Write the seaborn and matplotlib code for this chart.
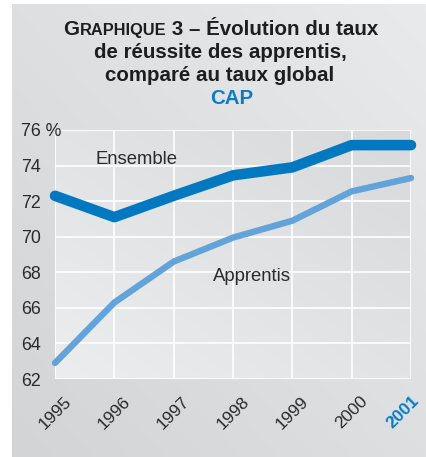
import matplotlib
matplotlib.use("Agg")
import matplotlib.pyplot as plt
import seaborn as sns
import pandas as pd
import numpy as np
from matplotlib.colors import LinearSegmentedColormap
from matplotlib.transforms import ScaledTranslation

years = [1995, 1996, 1997, 1998, 1999, 2000, 2001]
ensemble = [72.3, 71.1, 72.3, 73.45, 73.9, 75.15, 75.15]
apprentis = [62.9, 66.3, 68.6, 69.95, 70.9, 72.55, 73.3]
ytick_values = [62, 64, 66, 68, 70, 72, 74, 76]
ytick_labels = ["62", "64", "66", "68", "70", "72", "74", "76 %"]
xtick_labels = ["1995", "1996", "1997", "1998", "1999", "2000", "2001"]

df = pd.DataFrame({
    "annee": years * 2,
    "taux": ensemble + apprentis,
    "serie": ["Ensemble"] * len(years) + ["Apprentis"] * len(years),
})

sns.set_theme(style="white")
plt.rcParams["font.family"] = ["Liberation Sans", "DejaVu Sans"]

W, H = 427, 457
fig = plt.figure(figsize=(W / 100, H / 100), dpi=100, facecolor="white")

# diagonal gradient helper
gx, gy = np.meshgrid(np.linspace(0, 1, 64), np.linspace(0, 1, 64))
diag = (gx + (1 - gy)) / 2  # 0 at bottom-left (image origin upper), 1 at top-right

bg = fig.add_axes([12 / W, 0, 1 - 12 / W, 1 - 4 / H], zorder=-10)
bg_cmap = LinearSegmentedColormap.from_list("bg", ["#d3d4d6", "#e9eaec"])
bg.imshow(diag, cmap=bg_cmap, aspect="auto", origin="upper",
          interpolation="bilinear", extent=[0, 1, 0, 1])
bg.set_axis_off()

ax = fig.add_axes([55 / W, 1 - 379 / H, 356 / W, 249 / H])
ax.set_zorder(2)
pa_cmap = LinearSegmentedColormap.from_list("pa", ["#ecedee", "#d8d9db"])
ax.imshow(diag, cmap=pa_cmap, aspect="auto", origin="upper",
          interpolation="bilinear", extent=[1995, 2001, 62, 76], zorder=0)

sns.lineplot(data=df[df.serie == "Apprentis"], x="annee", y="taux", ax=ax,
             color="#62a3d9", linewidth=4.6, solid_capstyle="round",
             clip_on=False, zorder=3)
sns.lineplot(data=df[df.serie == "Ensemble"], x="annee", y="taux", ax=ax,
             color="#0278c1", linewidth=7.6, solid_capstyle="round",
             clip_on=False, zorder=4)

ax.set_xlim(1995, 2001)
ax.set_ylim(62, 76)
ax.set_xticks(years)
ax.set_yticks(ytick_values)
ax.set_yticklabels(ytick_labels)
ax.set_xticklabels(xtick_labels, rotation=45, ha="center", va="top",
                   rotation_mode="default")
ax.grid(True, color="white", linewidth=1.2)
ax.set_axisbelow(True)
for s in ax.spines.values():
    s.set_visible(False)
ax.set_xlabel("")
ax.set_ylabel("")
ax.tick_params(axis="y", length=0, pad=24.5, labelsize=12.8, labelcolor="#2a2a2a")
ax.tick_params(axis="x", length=0, pad=10.5, labelsize=12.5, labelcolor="#2a2a2a")
for lab in ax.get_yticklabels():
    lab.set_ha("left")
xl = ax.get_xticklabels()
xl[-1].set_color("#0a7dc4")
xl[-1].set_fontweight("bold")
xl[-1].set_transform(xl[-1].get_transform() +
                     ScaledTranslation(-8 / 100, 0, fig.dpi_scale_trans))

ax.text(1996.37, 74.09, "Ensemble", fontsize=13.3, color="#2a2a2a",
        ha="center", va="baseline")
ax.text(1998.32, 67.51, "Apprentis", fontsize=13.3, color="#2a2a2a",
        ha="center", va="baseline")

# Title, first line with small caps for "RAPHIQUE"
TS = 14.8
title_kw = dict(fontweight="bold", color="#1e1e1e", va="baseline")
renderer = fig.canvas.get_renderer()
parts = [("G", TS), ("RAPHIQUE", TS * 0.8), (" 3 – Évolution du taux", TS)]
texts = []
for s, fs in parts:
    t = fig.text(0, 1 - 35 / H, s, fontsize=fs, ha="left", **title_kw)
    texts.append(t)
widths = [t.get_window_extent(renderer).width for t in texts]
x = 221 - sum(widths) / 2
for t, w in zip(texts, widths):
    t.set_x(x / W)
    x += w
fig.text(220 / W, 1 - 58 / H, "de réussite des apprentis,", fontsize=TS,
         ha="center", **title_kw)
fig.text(220 / W, 1 - 81 / H, "comparé au taux global", fontsize=TS,
         ha="center", **title_kw)
fig.text(232 / W, 1 - 104 / H, "CAP", fontsize=TS, fontweight="bold",
         color="#0a7dc4", ha="center", va="baseline")

fig.savefig("out.png", dpi=100, facecolor=fig.get_facecolor())
